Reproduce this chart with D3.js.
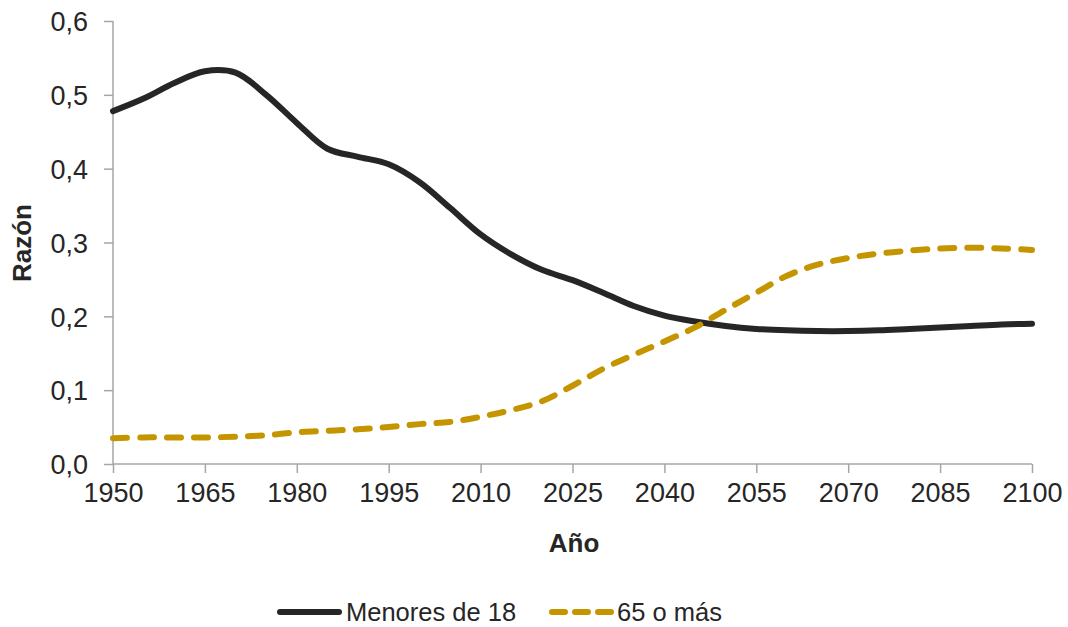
<!DOCTYPE html>
<html>
<head>
<meta charset="utf-8">
<script src="https://cdn.jsdelivr.net/npm/d3@7"></script>
<style>
  html, body { margin: 0; padding: 0; background: #fff; }
  svg { display: block; }
  text { font-family: "Liberation Sans", Arial, sans-serif; fill: #262626; }
</style>
</head>
<body>
<svg id="chart" width="1068" height="627"></svg>
<script>
const years = [1950,1955,1960,1965,1970,1975,1980,1985,1990,1995,2000,2005,2010,2015,2020,2025,2030,2035,2040,2045,2050,2055,2060,2065,2070,2075,2080,2085,2090,2095,2100];
const menores18 = [0.478,0.495,0.516,0.532,0.530,0.500,0.462,0.427,0.416,0.406,0.382,0.347,0.311,0.284,0.263,0.249,0.232,0.214,0.201,0.193,0.187,0.183,0.181,0.180,0.180,0.181,0.183,0.185,0.187,0.189,0.190];
const mas65 = [0.035,0.036,0.036,0.036,0.037,0.039,0.043,0.045,0.047,0.050,0.054,0.057,0.064,0.073,0.085,0.106,0.129,0.148,0.166,0.185,0.209,0.232,0.255,0.270,0.279,0.285,0.289,0.292,0.293,0.292,0.290];
const xTicks = [1950,1965,1980,1995,2010,2025,2040,2055,2070,2085,2100];
const yTicks = [0,0.1,0.2,0.3,0.4,0.5,0.6];
const seriesNames = ["Menores de 18", "65 o más"];
const xTitle = "Año";
const yTitle = "Razón";

const svg = d3.select("#chart");
const mLeft = 113, mRight = 1032, mTop = 21, mBottom = 464;
const x = d3.scaleLinear().domain([1950, 2100]).range([mLeft, mRight]);
const y = d3.scaleLinear().domain([0, 0.6]).range([mBottom, mTop]);
const axisColor = "#a6a6a6";
const fmt = d => d3.format(".1f")(d).replace(".", ",");

// Y axis
const yAxis = svg.append("g").attr("transform", `translate(${mLeft},0)`)
  .call(d3.axisLeft(y).tickValues(yTicks).tickSize(9).tickPadding(16).tickFormat(fmt));
// X axis
const xAxis = svg.append("g").attr("transform", `translate(0,${mBottom})`)
  .call(d3.axisBottom(x).tickValues(xTicks).tickSize(9).tickPadding(10).tickFormat(d3.format("d")));
[yAxis, xAxis].forEach(a => {
  a.selectAll("path.domain").attr("stroke", axisColor).attr("stroke-width", 1.5);
  a.selectAll(".tick line").attr("stroke", axisColor).attr("stroke-width", 1.5);
  a.selectAll(".tick text").attr("font-size", 27).attr("fill", "#262626")
    .attr("font-family", "Liberation Sans, Arial, sans-serif");
});
yAxis.selectAll(".tick text").attr("dy", "0.36em");
xAxis.selectAll(".tick text").attr("dy", "0.71em");
yAxis.select("path.domain").attr("d", `M0,${mTop}V${mBottom}`);
xAxis.select("path.domain").attr("d", `M${mLeft},0H${mRight}`);

// Titles
svg.append("text").attr("x", 574).attr("y", 552).attr("text-anchor", "middle")
  .attr("font-size", 26).attr("font-weight", "bold").text(xTitle);
svg.append("text").attr("transform", "translate(31,243) rotate(-90)").attr("text-anchor", "middle")
  .attr("font-size", 26).attr("font-weight", "bold").text(yTitle);

// Lines
const line = d3.line().x(d => x(d[0])).y(d => y(d[1])).curve(d3.curveCatmullRom.alpha(0.5));
svg.append("path").datum(years.map((yr, i) => [yr, menores18[i]]))
  .attr("d", line).attr("fill", "none").attr("stroke", "#262626")
  .attr("stroke-width", 6).attr("stroke-linecap", "round").attr("stroke-linejoin", "round");
svg.append("path").datum(years.map((yr, i) => [yr, mas65[i]]))
  .attr("d", line).attr("fill", "none").attr("stroke", "#c59500")
  .attr("stroke-width", 6).attr("stroke-linecap", "round").attr("stroke-dasharray", "14 13");

// Legend
const lg = svg.append("g");
lg.append("line").attr("x1", 280).attr("x2", 339).attr("y1", 612).attr("y2", 612)
  .attr("stroke", "#262626").attr("stroke-width", 6).attr("stroke-linecap", "round");
lg.append("text").attr("x", 346).attr("y", 621).attr("font-size", 25.5).text(seriesNames[0]);
lg.append("line").attr("x1", 552).attr("x2", 612).attr("y1", 612).attr("y2", 612)
  .attr("stroke", "#c59500").attr("stroke-width", 6).attr("stroke-linecap", "round")
  .attr("stroke-dasharray", "13 10");
lg.append("text").attr("x", 617).attr("y", 621).attr("font-size", 25.5).text(seriesNames[1]);
</script>
</body>
</html>
